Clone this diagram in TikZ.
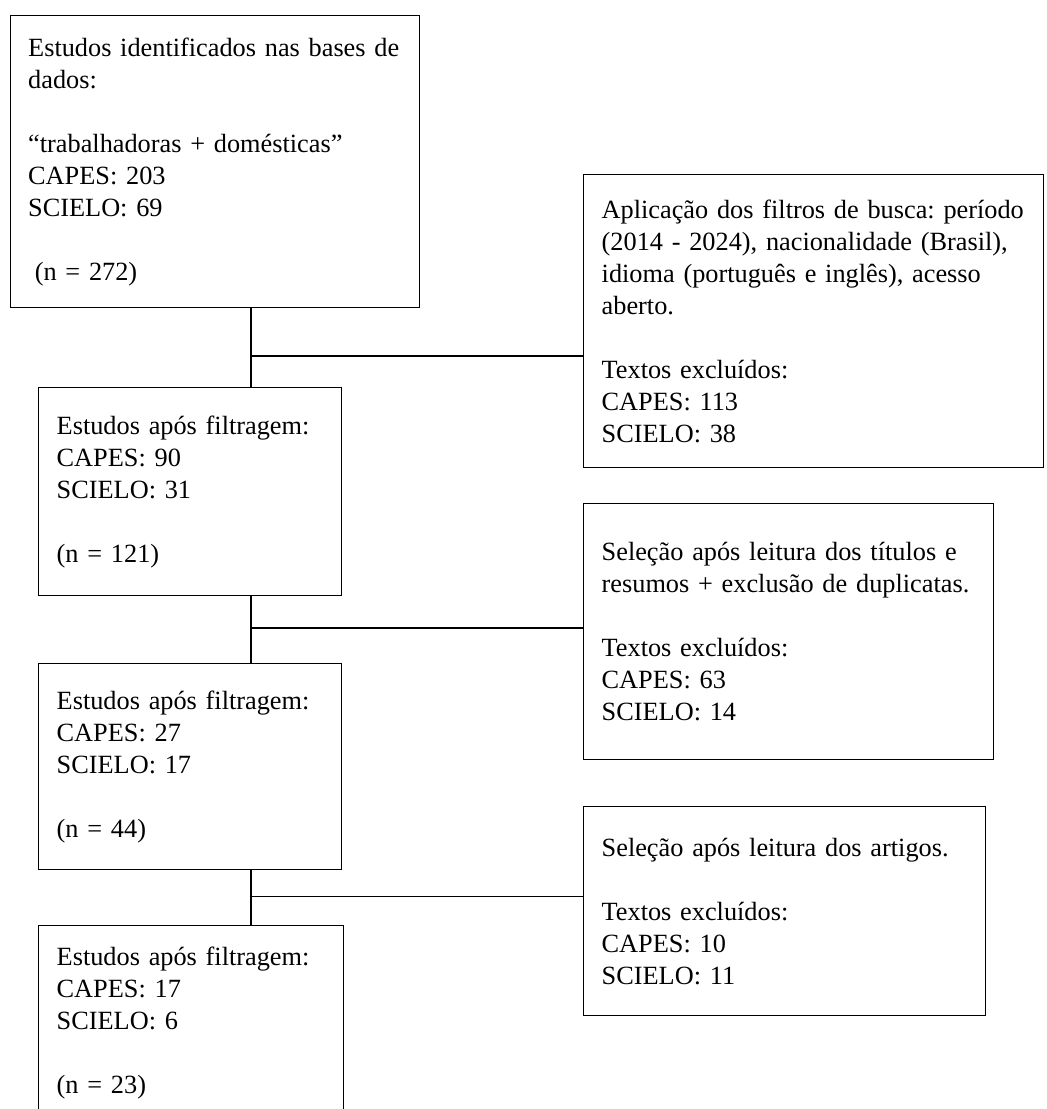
\documentclass[tikz,border=0pt]{standalone}
\usepackage{fontspec}
\setmainfont{Liberation Serif}
\usepackage{tikz}
\usetikzlibrary{positioning}

\begin{document}
\begin{tikzpicture}[x=1pt,y=-1pt,
    caixa/.style={draw, line width=1.4pt, rectangle, anchor=north west,
      align=left, inner xsep=18pt, inner ysep=0pt,
      font=\fontsize{26.3pt}{32pt}\selectfont\frenchspacing},
    liga/.style={line width=1.4pt}]
        % Area visivel da figura
        \clip (0,0) rectangle (1047,1109);

        % Etapas da triagem (coluna esquerda)
        \node[caixa, text width=373.5pt, minimum height=292pt] (busca) at (9.5,15)
          {\mbox{Estudos identificados nas bases de}\\ dados:\\[32pt]
           \mbox{“trabalhadoras + domésticas”}\\ CAPES: 203\\ SCIELO: 69\\[32pt]
           \hspace*{0.25em}(n = 272)};
        \node[caixa, text width=267pt, minimum height=208pt] (filtro1) at (38,387)
          {\mbox{Estudos após filtragem:}\\ CAPES: 90\\ SCIELO: 31\\[32pt] (n = 121)};
        \node[caixa, text width=267pt, minimum height=206pt] (filtro2) at (38,663)
          {\mbox{Estudos após filtragem:}\\ CAPES: 27\\ SCIELO: 17\\[32pt] (n = 44)};
        \node[caixa, text width=269pt, minimum height=195pt] (filtro3) at (38,925)
          {\mbox{Estudos após filtragem:}\\ CAPES: 17\\ SCIELO: 6\\[32pt] (n = 23)};

        % Textos excluidos (coluna direita)
        \node[caixa, text width=424pt, minimum height=293pt] (exclui1) at (583,174)
          {\mbox{Aplicação dos filtros de busca: período}\\
           \mbox{(2014 - 2024), nacionalidade (Brasil),}\\
           \mbox{idioma (português e inglês), acesso}\\ aberto.\\[32pt]
           Textos excluídos:\\ CAPES: 113\\ SCIELO: 38};
        \node[caixa, text width=374pt, minimum height=256pt] (exclui2) at (583,503)
          {\mbox{Seleção após leitura dos títulos e}\\
           \mbox{resumos + exclusão de duplicatas.}\\[32pt]
           Textos excluídos:\\ CAPES: 63\\ SCIELO: 14};
        \node[caixa, text width=366pt, minimum height=209pt] (exclui3) at (583,806)
          {\mbox{Seleção após leitura dos artigos.}\\[32pt]
           Textos excluídos:\\ CAPES: 10\\ SCIELO: 11};

        % Ligacoes
        \coordinate (j1) at (251,356);
        \coordinate (j2) at (251,628);
        \coordinate (j3) at (251,896.5);
        \foreach \de/\para/\fora/\j in {busca/filtro1/exclui1/j1,
            filtro1/filtro2/exclui2/j2, filtro2/filtro3/exclui3/j3} {
            \draw[liga] (\j |- \de.south) -- (\j |- \para.north);
            \draw[liga] (\j) -- (\j -| \fora.west);
        }
    \end{tikzpicture}
\end{document}
